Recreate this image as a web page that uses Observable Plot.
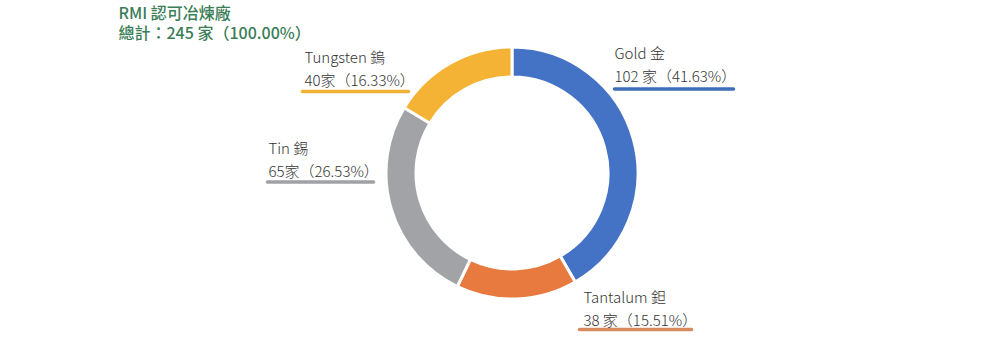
<!DOCTYPE html>
<html>
<head>
<meta charset="utf-8">
<script src="https://cdn.jsdelivr.net/npm/d3@7"></script>
<script src="https://cdn.jsdelivr.net/npm/@observablehq/plot@0.6"></script>
<style>
  html, body { margin: 0; padding: 0; background: #fff; }
  #chart svg { display: block; }
</style>
</head>
<body>
<div id="chart"></div>
<script>
// ---- data ----
const metals = ["Gold 金", "Tantalum 鉭", "Tin 錫", "Tungsten 鎢"];
const counts = [102, 38, 65, 40];
const percents = ["41.63%", "15.51%", "26.53%", "16.33%"];
const colors = ["#4472C4", "#E8793F", "#A2A3A7", "#F5B335"];
const lineColors = ["#3F6FBA", "#D98B5F", "#A0A1A5", "#F2B233"];
const titleLines = ["RMI 認可冶煉廠", "總計：245 家（100.00%）"];

// ---- layout (positions in chart units, not data) ----
const center = {x: 512, y: 173};
const outerR = 126, innerR = 96;
const labelLayout = [
  {x: 614, y: 58, lx1: 614, lx2: 733, ly: 88.5},
  {x: 583, y: 302, lx1: 579, lx2: 691, ly: 329},
  {x: 268, y: 153, lx1: 267, lx2: 373, ly: 181.5},
  {x: 304, y: 62, lx1: 302, lx2: 408, ly: 91}
];

const rows = metals.map((m, i) => ({
  metal: m,
  count: counts[i],
  pct: percents[i],
  countLabel: (i === 2 || i === 3 ? `${counts[i]}家（${percents[i]}）` : `${counts[i]} 家（${percents[i]}）`),
  ...labelLayout[i]
}));

const pie = d3.pie().sort(null).value(d => d.count);

function donut(index, scales, values, dimensions, context) {
  const {x, y} = scales;
  const cx = x(center.x), cy = y(center.y);
  const k = Math.abs(x(1) - x(0));
  const arc = d3.arc().innerRadius(innerR * k).outerRadius(outerR * k);
  const g = d3.create("svg:g").attr("transform", `translate(${cx},${cy})`);
  g.selectAll("path")
    .data(pie(rows))
    .join("path")
    .attr("d", arc)
    .attr("fill", d => colors[metals.indexOf(d.data.metal)])
    .attr("stroke", "#fff")
    .attr("stroke-width", 3)
    .attr("stroke-linejoin", "miter");
  return g.node();
}

const font = "'Noto Sans CJK TC', 'Noto Sans', sans-serif";

const chart = Plot.plot({
  width: 1000,
  height: 353,
  margin: 0,
  style: {fontFamily: font, background: "#fff"},
  x: {domain: [0, 1000], range: [0, 1000], axis: null},
  y: {domain: [0, 353], range: [0, 353], axis: null},
  marks: [
    donut,
    Plot.link(rows, {
      x1: "lx1", x2: "lx2", y1: "ly", y2: "ly",
      stroke: (d) => lineColors[metals.indexOf(d.metal)],
      strokeWidth: 3.5, strokeLinecap: "round"
    }),
    Plot.text(rows, {x: "x", y: "y", text: "metal", textAnchor: "start", fontSize: 15, fontWeight: 300, fill: "#333", lineAnchor: "bottom"}),
    Plot.text(rows, {x: "x", y: (d) => d.y + 23, text: "countLabel", textAnchor: "start", fontSize: 15, fontWeight: 300, fill: "#333", lineAnchor: "bottom"}),
    Plot.text([titleLines.join("\n")], {x: 118, y: 38, text: d => d, textAnchor: "start", fontSize: 16, fontWeight: 500, fill: "#3A7D56", lineAnchor: "bottom", lineHeight: 1.2})
  ]
});

document.getElementById("chart").appendChild(chart);
</script>
</body>
</html>
